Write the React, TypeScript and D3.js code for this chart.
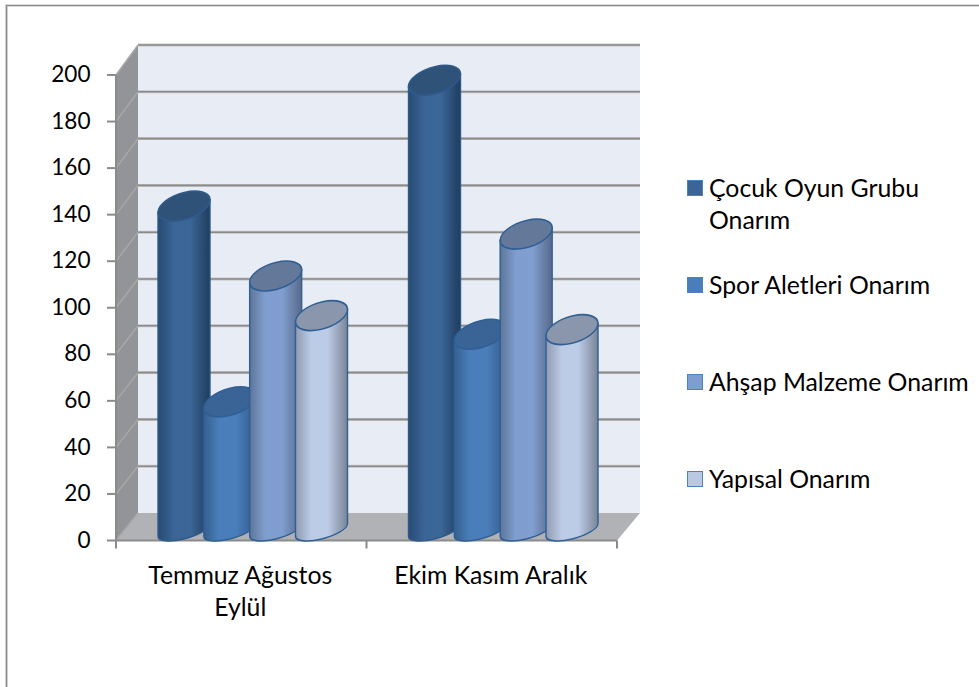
import React from "react";
import * as d3 from "d3";

const categories = ["Temmuz Ağustos\nEylül", "Ekim Kasım Aralık"];
const seriesNames = ["Çocuk Oyun Grubu\nOnarım", "Spor Aletleri Onarım", "Ahşap Malzeme Onarım", "Yapısal Onarım"];
const seriesA = [139, 193];
const seriesB = [55, 84];
const seriesC = [109, 127];
const seriesD = [92, 86];
const yTicks = d3.range(0, 201, 20);
const bodyStops = [
  ["#274a72", "#3a6596", "#3b6798", "#1f3c5c"],
  ["#35608f", "#4a7ebb", "#4a7ebb", "#335c8c"],
  ["#5d7598", "#7f9ecf", "#809fd0", "#58698a"],
  ["#8e9ab0", "#bccbe6", "#bccbe6", "#7a8496"],
];
const topFills = ["#2f5278", "#3a6496", "#64789a", "#8a96ab"];
const strokes = ["#2f5a8c", "#2f5f95", "#2f5f95", "#2f5f95"];
const swatchFills = ["#3a6596", "#4a7ebb", "#7f9ecf", "#b9c9e4"];

const frontY = d3.scaleLinear().domain([0, 200]).range([540.5, 75]);
const backY = d3.scaleLinear().domain([0, 200]).range([513, 45]);
const barY = d3.scaleLinear().domain([0, 200]).range([530, 64]);
const groupX = d3.scaleBand().domain(categories).range([116, 617]);
const seriesX = d3.scaleLinear().domain([0, 3]).range([68, 205.5]);
const FONT = "Lato, Carlito, sans-serif";
const FS = 24.8;
const TICK_FS = 22.6;
const RX = 26, RY_TOP = 13.6, RY_BOT = 9, SHEAR = 0.24;

function Cylinder({ cx, value, s }: { cx: number; value: number; s: number }) {
  const top = barY(value), base = barY(0);
  const d = `M${-RX},${top} L${-RX},${base} A${RX},${RY_BOT} 0 0 0 ${RX},${base} L${RX},${top} Z`;
  return (
    <g transform={`matrix(1,${-SHEAR},0,1,${cx},0)`}>
      <path d={d} fill={`url(#body${s})`} stroke={strokes[s]} strokeWidth={1.4} />
      <ellipse cx={0} cy={top} rx={RX} ry={RY_TOP} fill={topFills[s]} stroke={strokes[s]} strokeWidth={1.6} />
    </g>
  );
}

export default function App() {
  const data = [seriesA, seriesB, seriesC, seriesD];
  const [x0, x1] = groupX.range();
  const wall = 22, backRight = x1 + wall + 1;
  return (
    <svg width={979} height={687} style={{ position: "absolute", left: 0, top: 0 }}>
      <defs>
        {bodyStops.map((c, i) => (
          <linearGradient key={i} id={`body${i}`} x1="0" x2="1" y1="0" y2="0">
            <stop offset="0" stopColor={c[0]} />
            <stop offset="0.3" stopColor={c[1]} />
            <stop offset="0.62" stopColor={c[2]} />
            <stop offset="1" stopColor={c[3]} />
          </linearGradient>
        ))}
      </defs>
      <rect width={979} height={687} fill="#fff" />
      <path d="M6.5,687 V5.5 H979" fill="none" stroke="#d0d0d0" strokeWidth={2.6} />
      <path d="M6.5,687 V5.5 H979" fill="none" stroke="#8a8a8a" strokeWidth={1.2} />

      <rect x={x0 + wall} y={backY(200)} width={backRight - x0 - wall} height={backY(0) - backY(200)} fill="#e8ecf5" />
      <path d={`M${x0},${frontY(200)} L${x0 + wall},${backY(200)} V${backY(0)} L${x0},${frontY(0)} Z`} fill="#929497" />
      <path d={`M${x0},${frontY(0)} L${x0 + wall},${backY(0)} H${backRight} L${x1},${frontY(0)} Z`} fill="#b0b2b5" />

      {yTicks.map((t) => (
        <g key={t}>
          {t > 0 && <line x1={x0 + wall} x2={backRight} y1={backY(t)} y2={backY(t)} stroke="#c4c4c4" strokeWidth={3} />}
          {t > 0 && <line x1={x0 + wall} x2={backRight} y1={backY(t)} y2={backY(t)} stroke="#8b8b8b" strokeWidth={1.6} />}
          <line x1={x0} x2={x0 + wall} y1={frontY(t)} y2={backY(t)} stroke="#a8a8a8" strokeWidth={1.5} />
          <line x1={x0 - 9} x2={x0} y1={frontY(t)} y2={frontY(t)} stroke="#8b8b8b" strokeWidth={2} />
          <text x={x0 - 25.5} y={frontY(t) - 1} dy="0.36em" textAnchor="end" fontFamily={FONT} fontSize={TICK_FS} fill="#000">{t}</text>
        </g>
      ))}
      <line x1={x0} x2={x0} y1={frontY(200)} y2={frontY(0)} stroke="#8b8b8b" strokeWidth={2} />
      <line x1={x0} x2={x1} y1={frontY(0)} y2={frontY(0)} stroke="#8b8b8b" strokeWidth={2} />
      {[x0, x0 + groupX.bandwidth(), x1].map((x) => (
        <line key={x} x1={x} x2={x} y1={frontY(0)} y2={frontY(0) + 8} stroke="#8b8b8b" strokeWidth={2} />
      ))}

      {categories.map((c, ci) => (
        <g key={c}>
          {data.map((values, s) => (
            <Cylinder key={s} s={s} cx={groupX(c)! + seriesX(s)} value={values[ci]} />
          ))}
          {c.split("\n").map((line, li) => (
            <text key={li} x={groupX(c)! + groupX.bandwidth() / 2 - 1} y={584 + li * 32} textAnchor="middle" fontFamily={FONT} fontSize={FS} fill="#000">{line}</text>
          ))}
        </g>
      ))}

      {seriesNames.map((name, i) => {
        const cy = 188 + i * 97;
        return (
          <g key={name}>
            <rect x={687.5} y={cy - 7.5} width={15} height={15} fill={swatchFills[i]} stroke="#4f81bd" strokeWidth={1} />
            {name.split("\n").map((line, li) => (
              <text key={li} x={709} y={cy + 9 + li * 32} fontFamily={FONT} fontSize={FS} fill="#000">{line}</text>
            ))}
          </g>
        );
      })}
    </svg>
  );
}
